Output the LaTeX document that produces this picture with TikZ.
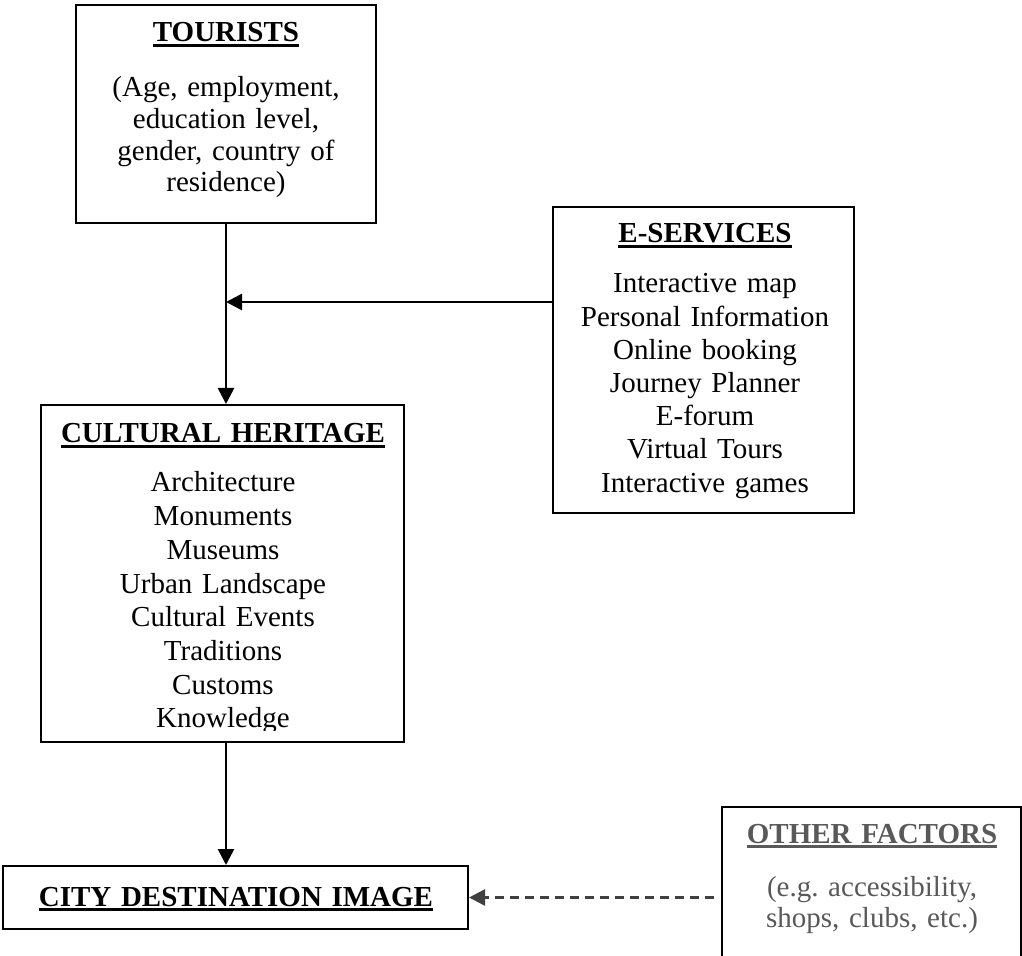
\documentclass[tikz,border=0pt]{standalone}
\usepackage{fontspec}
\setmainfont{Liberation Serif}
\usetikzlibrary{arrows.meta}

\definecolor{factorgray}{HTML}{595959}
\definecolor{dashgray}{HTML}{404040}

% bold title with a heavy underline
\newcommand{\boxtitle}[1]{\setbox0\hbox{\textbf{#1}}\rlap{\rule[-2.3pt]{\wd0}{1.2pt}}\box0}

\begin{document}
\begin{tikzpicture}[x=0.5pt, y=-0.5pt,
    box/.style={draw, line width=1pt, inner sep=0pt},
    boxtext/.style={anchor=base, align=center, inner sep=0pt},
    flow/.style={line width=1.3pt, -{Triangle[length=8pt, width=8pt]}},
    dashflow/.style={flow, dashgray, dash pattern=on 4.5pt off 3pt}]
    % Frame:
    \useasboundingbox (0, 0) rectangle (1022, 956);

    % Boxes:
    \node[box, minimum width=150pt, minimum height=109pt] (tourists) at (226, 114) {};
    \node[box, minimum width=150.5pt, minimum height=153pt] (eserv) at (703.5, 360) {};
    \node[box, minimum width=181.5pt, minimum height=168.5pt] (heritage) at (222.5, 573.5) {};
    \node[box, minimum width=232.5pt, minimum height=31.5pt] (city) at (235.5, 897.5) {};
    \node[box, minimum width=149.5pt, minimum height=90pt] (other) at (871.5, 897) {};

    % Texts:
    \node[boxtext, text width=145pt, font=\fontsize{14.5pt}{15.85pt}\selectfont] (tourtext) at (226, 42)
        {\boxtitle{TOURISTS}\\[11.6pt](Age, employment,\\education level,\\gender, country of\\residence)};
    \node[boxtext, text width=150pt, font=\fontsize{14.5pt}{16.6pt}\selectfont] (eservtext) at (705, 243)
        {\boxtitle{E-SERVICES}\\[8.4pt]Interactive map\\Personal Information\\Online booking\\Journey Planner\\E-forum\\Virtual Tours\\Interactive games};
    \begin{scope}
        \coordinate (cutline) at (0, 730);
        \clip (heritage.north west) rectangle (heritage.east |- cutline);
        \node[boxtext, text width=178pt, font=\fontsize{14.5pt}{16.85pt}\selectfont] (heritext) at (223, 443)
            {\boxtitle{CULTURAL HERITAGE}\\[7.65pt]Architecture\\Monuments\\Museums\\Urban Landscape\\Cultural Events\\Traditions\\Customs\\Knowledge};
    \end{scope}
    \node[boxtext, text width=225pt, font=\fontsize{14.5pt}{16.8pt}\selectfont] (citytext) at (236, 906)
        {\boxtitle{CITY DESTINATION IMAGE}};
    \node[boxtext, text width=148pt, text=factorgray, font=\fontsize{14.5pt}{15.5pt}\selectfont] (othertext) at (872, 843)
        {\boxtitle{OTHER FACTORS}\\[11pt](e.g.\ accessibility,\\shops, clubs, etc.)};

    % Connectors:
    \coordinate (spine) at (226, 302);
    \draw[flow] (tourists.south) -- (tourists.south |- heritage.north);
    \draw[flow] (eserv.west |- spine) -- (spine);
    \draw[flow] (spine |- heritage.south) -- (spine |- city.north);
    \draw[dashflow, shorten <=3.5pt] (other.west |- city.east) -- (city.east);
\end{tikzpicture}
\end{document}
